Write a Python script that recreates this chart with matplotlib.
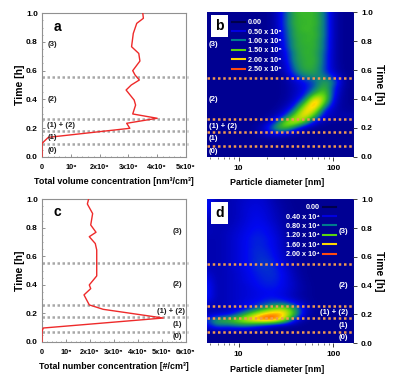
#!/usr/bin/env python3
"""Time series of volume / number concentration with size distribution maps."""

import matplotlib
matplotlib.use('Agg')
import matplotlib.pyplot as plt
import numpy as np
from matplotlib.colors import LinearSegmentedColormap
from matplotlib.lines import Line2D
from matplotlib.ticker import MultipleLocator

plt.rcParams['font.family'] = ['Liberation Sans', 'DejaVu Sans']
plt.rcParams['font.weight'] = 'bold'

W, H = 401, 385

# panel a: time [h] vs total volume concentration [1e9 nm3/cm3]
vol_time = [0, 0.093, 0.135, 0.198, 0.233, 0.268, 0.298, 0.36, 0.395, 0.465, 0.50, 0.535,
            0.57, 0.60, 0.667, 0.72, 0.767, 0.86, 0.93, 0.965, 1.0]
vol_conc = [0, 0, 0.22, 3.05, 2.94, 4.0, 3.15, 3.25, 3.2, 2.92, 3.1, 3.38,
            3.23, 3.15, 3.4, 3.36, 3.11, 3.17, 3.29, 3.52, 3.5]

# panel c: time [h] vs total number concentration [1e5 #/cm3]
num_time = [0, 0.072, 0.098, 0.168, 0.229, 0.26, 0.33, 0.374, 0.40, 0.463, 0.645, 0.69,
            0.738, 0.769, 0.82, 0.90, 0.967, 1.0]
num_conc = [0, 0, 0.05, 5.05, 2.55, 1.97, 1.75, 2.03, 1.97, 2.28, 2.28, 2.22,
            1.97, 2.25, 2.03, 2.11, 1.89, 1.94]

# maps: particle diameter columns [nm], rows go up in time every 0.04 h
diam = [4.6, 5.8, 7.4, 9.4, 12, 15, 19, 24, 31, 39, 49, 62, 79, 100, 127, 161]
map_time = [0, .04, .08, .12, .16, .20, .24, .28, .32, .36, .40, .44, .48, .52, .56, .60,
            .64, .68, .72, .76, .80, .84, .88, .92, .96, 1.0]

map_b = [
    [.03, .03, .03, .03, .03, .03, .03, .03, .03, .03, .03, .03, .03, .03, .03, .03],
    [.04, .04, .04, .04, .04, .04, .04, .04, .04, .04, .04, .04, .04, .04, .04, .04],
    [.04, .04, .04, .04, .04, .04, .04, .04, .04, .04, .04, .04, .04, .04, .04, .04],
    [.04, .04, .04, .04, .04, .04, .05, .05, .04, .04, .04, .04, .04, .04, .04, .04],
    [.04, .04, .04, .04, .04, .08, .25, .40, .25, .08, .04, .04, .04, .04, .04, .04],
    [.04, .04, .04, .04, .04, .10, .40, 1.2, 1.5, .70, .15, .05, .04, .04, .04, .04],
    [.04, .04, .04, .04, .04, .05, .15, .60, 1.7, 2.0, 1.3, .35, .10, .06, .06, .06],
    [.04, .04, .04, .04, .04, .04, .06, .20, .70, 1.7, 2.1, 1.2, .35, .20, .20, .20],
    [.04, .04, .04, .04, .04, .04, .04, .08, .30, 1.0, 2.2, 1.9, .50, .20, .10, .08],
    [.04, .04, .04, .04, .04, .04, .04, .05, .15, .50, 1.6, 2.5, 1.2, .25, .08, .05],
    [.04, .04, .04, .04, .04, .04, .04, .04, .10, .30, .80, 2.2, 1.7, .35, .06, .04],
    [.04, .04, .04, .04, .04, .04, .04, .04, .08, .25, .50, 1.2, 1.6, .50, .06, .04],
    [.04, .04, .04, .04, .04, .04, .04, .04, .08, .25, .45, .80, 1.4, .60, .06, .04],
    [.04, .04, .04, .04, .04, .04, .04, .04, .08, .30, .55, .75, 1.2, .90, .08, .04],
    [.04, .04, .04, .04, .04, .04, .04, .05, .12, .65, 1.0, 1.05, .90, .45, .05, .04],
    [.04, .04, .04, .04, .04, .04, .04, .08, .25, .90, 1.2, 1.2, .70, .20, .04, .04],
    [.04, .04, .04, .04, .04, .04, .04, .10, .30, 1.0, 1.25, 1.25, .75, .18, .04, .04],
    [.04, .04, .04, .04, .04, .04, .04, .12, .40, 1.1, 1.2, 1.3, .75, .15, .04, .04],
    [.04, .04, .04, .04, .04, .04, .04, .12, .45, 1.05, 1.3, 1.2, .80, .15, .04, .04],
    [.04, .04, .04, .04, .04, .04, .04, .14, .55, 1.2, 1.2, 1.3, .85, .15, .04, .04],
    [.04, .04, .04, .04, .04, .04, .04, .15, .60, 1.15, 1.3, 1.25, .85, .15, .04, .04],
    [.04, .04, .04, .04, .04, .04, .04, .15, .65, 1.25, 1.2, 1.35, .90, .15, .04, .04],
    [.04, .04, .04, .04, .04, .04, .04, .15, .70, 1.2, 1.35, 1.25, .90, .15, .04, .04],
    [.04, .04, .04, .04, .04, .04, .04, .15, .75, 1.3, 1.25, 1.35, .90, .15, .04, .04],
    [.04, .04, .04, .04, .04, .04, .04, .15, .75, 1.25, 1.3, 1.3, .90, .15, .04, .04],
    [.04, .04, .04, .04, .04, .04, .04, .15, .75, 1.3, 1.3, 1.3, .90, .15, .04, .04],
]

map_d = [
    [.03, .03, .03, .03, .03, .03, .03, .03, .03, .03, .03, .03, .03, .03, .03, .03],
    [.04, .04, .04, .04, .04, .04, .04, .04, .04, .04, .04, .04, .04, .04, .04, .04],
    [.04, .04, .04, .04, .04, .04, .04, .04, .04, .04, .04, .04, .04, .04, .04, .04],
    [.30, .70, .60, .70, .70, .50, .30, .10, .04, .04, .04, .04, .04, .04, .04, .04],
    [.50, 1.0, 1.1, 1.3, 1.6, 1.85, 2.0, 1.9, 1.3, .35, .06, .04, .04, .04, .04, .04],
    [.15, .25, .30, .55, 1.0, 1.5, 1.8, 1.85, 1.7, 1.0, .20, .05, .04, .04, .04, .04],
    [.15, .15, .20, .25, .35, .60, .95, 1.3, 1.35, .90, .25, .05, .04, .04, .04, .04],
    [.30, .15, .20, .25, .35, .40, .50, .60, .55, .35, .12, .05, .04, .04, .04, .04],
    [.50, .15, .20, .25, .30, .35, .40, .40, .30, .15, .08, .04, .04, .04, .04, .04],
    [.50, .15, .20, .25, .30, .35, .40, .40, .32, .18, .08, .04, .04, .04, .04, .04],
    [.50, .15, .20, .25, .30, .40, .45, .45, .35, .20, .08, .04, .04, .04, .04, .04],
    [.40, .15, .20, .25, .35, .42, .48, .48, .35, .18, .06, .04, .04, .04, .04, .04],
    [.30, .15, .20, .25, .35, .45, .50, .50, .35, .15, .05, .04, .04, .04, .04, .04],
    [.20, .15, .20, .28, .38, .48, .52, .48, .30, .12, .05, .04, .04, .04, .04, .04],
    [.15, .15, .20, .30, .40, .50, .55, .45, .25, .10, .05, .04, .04, .04, .04, .04],
    [.15, .15, .20, .30, .40, .50, .50, .40, .20, .08, .04, .04, .04, .04, .04, .04],
    [.15, .15, .20, .30, .40, .50, .48, .38, .18, .08, .04, .04, .04, .04, .04, .04],
    [.15, .15, .20, .30, .40, .48, .45, .35, .15, .08, .04, .04, .04, .04, .04, .04],
    [.15, .15, .20, .30, .40, .48, .45, .35, .15, .06, .04, .04, .04, .04, .04, .04],
    [.20, .15, .20, .28, .38, .45, .42, .30, .12, .05, .04, .04, .04, .04, .04, .04],
    [.20, .15, .18, .25, .35, .42, .40, .28, .10, .05, .04, .04, .04, .04, .04, .04],
    [.20, .15, .15, .22, .32, .40, .35, .22, .10, .05, .04, .04, .04, .04, .04, .04],
    [.30, .15, .15, .20, .30, .38, .32, .20, .10, .05, .04, .04, .04, .04, .04, .04],
    [.40, .15, .15, .20, .30, .35, .30, .18, .08, .05, .04, .04, .04, .04, .04, .04],
    [.50, .15, .15, .20, .28, .32, .28, .15, .08, .04, .04, .04, .04, .04, .04, .04],
    [.50, .15, .15, .20, .25, .30, .25, .12, .06, .04, .04, .04, .04, .04, .04, .04],
]

# dotted phase boundaries [h]
bounds_a = [0.088, 0.179, 0.265, 0.553]
bounds_b = [0.076, 0.173, 0.259, 0.543]
bounds_c = [0.068, 0.173, 0.257, 0.551]
bounds_d = [0.074, 0.176, 0.259, 0.551]

levels_b = ['0.00', '0.50 x 10⁸', '1.00 x 10⁸', '1.50 x 10⁸', '2.00 x 10⁸', '2.50 x 10⁸']
levels_d = ['0.00', '0.40 x 10⁴', '0.80 x 10⁴', '1.20 x 10⁴', '1.60 x 10⁴', '2.00 x 10⁴']
level_colors = ['#00004a', '#0000e0', '#007a8c', '#5ad410', '#ffd800', '#ff4a10']

phase_cmap = LinearSegmentedColormap.from_list(
    'phase', [(0, '#00008a'), (0.2, '#0008f0'), (0.36, '#0a7a8a'), (0.5, '#30b030'), (0.6, '#60d810'),
              (0.8, '#ffe000'), (1.0, '#ff3000')])


def make_axes(fig, left, top, right, bottom):
    """Axes from pixel edges in the figure."""
    return fig.add_axes([left / W, 1 - bottom / H, (right - left) / W, (bottom - top) / H])


def line_panel(ax, conc, time, bounds, xmax, xlabels, xlabel, tag, tag_x, tag_y, phases, phase_x):
    ax.plot(conc, time, color='#ee2a2a', linewidth=1.0, zorder=3)
    for b in bounds:
        ax.plot([0, xmax * 1.015], [b, b], color='#a8a8a8', linewidth=1.8, linestyle=(0, (1, 1)),
                clip_on=False, zorder=2)
    ax.set_xlim(0, xmax)
    ax.set_ylim(0, 1)
    ax.set_xticks(np.arange(0, xmax + 1))
    ax.set_xticklabels(xlabels, fontsize=5.2)
    ax.xaxis.set_minor_locator(MultipleLocator(0.2))
    ax.yaxis.set_major_locator(MultipleLocator(0.2))
    ax.yaxis.set_minor_locator(MultipleLocator(0.05))
    ax.tick_params(which='major', direction='in', length=2, width=0.6, color='#808080', labelsize=6, pad=3)
    ax.tick_params(which='minor', direction='in', length=1, width=0.5, color='#808080')
    ax.tick_params(axis='x', which='major', labelsize=5.2, pad=5)
    for s in ax.spines.values():
        s.set_color('#909090')
        s.set_linewidth(0.8)
    ax.set_xlabel(xlabel, fontsize=6.4, fontweight='bold', labelpad=4.5)
    ax.set_ylabel('Time [h]', fontsize=7.5, fontweight='bold', labelpad=1)
    ax.text(tag_x, tag_y, tag, fontsize=10, fontweight='bold', ha='left', va='center')
    for label, t in phases:
        ax.text(phase_x, t, label, fontsize=5.6, fontweight='bold', ha='left', va='center', color='#202020')


def map_panel(ax, grid, bounds, labels, vmax, markerfirst, legend_anchor, tag, phases, phase_x):
    # x runs in log10(diameter) so the image can be smoothed on a regular grid
    log_d = np.log10(diam)
    dx = (log_d[-1] - log_d[0]) / (len(diam) - 1) / 2
    dt = (map_time[1] - map_time[0]) / 2
    ax.imshow(np.array(grid), origin='lower', aspect='auto', interpolation='bicubic', cmap=phase_cmap,
              vmin=0, vmax=vmax, extent=[log_d[0] - dx, log_d[-1] + dx, map_time[0] - dt, map_time[-1] + dt])
    ax.set_xlim(log_d[0], log_d[-1])
    ax.set_ylim(0, 1)
    for b in bounds:
        ax.axhline(b, color='#f09a50', linewidth=1.8, linestyle=(0, (1, 1.1)), zorder=3)
    ax.set_xticks([1, 2])
    ax.set_xticklabels(['10', '100'])
    minor = [5, 6, 7, 8, 9, 20, 30, 40, 50, 60, 70, 80, 90]
    ax.set_xticks(np.log10(minor), minor=True)
    ax.yaxis.tick_right()
    ax.yaxis.set_label_position('right')
    ax.yaxis.set_major_locator(MultipleLocator(0.2))
    ax.tick_params(which='major', direction='out', length=3, width=0.7, labelsize=6, pad=3, color='#404040')
    ax.tick_params(which='minor', direction='out', length=1.5, width=0.5, color='#404040')
    for s in ax.spines.values():
        s.set_visible(False)
    ax.set_xlabel('Particle diameter [nm]', fontsize=6.4, fontweight='bold', labelpad=4.5)
    ax.xaxis.label.set_x(0.48)
    ax.set_ylabel('Time [h]', fontsize=7.5, fontweight='bold', rotation=-90, labelpad=8)
    ax.text(0.088, 0.905, tag, transform=ax.transAxes, fontsize=10, fontweight='bold', ha='center',
            va='center', bbox=dict(facecolor='white', edgecolor='none', boxstyle='square,pad=0.3'), zorder=5)
    for label, t in phases:
        ax.text(phase_x, t, label, transform=ax.get_yaxis_transform(), fontsize=5.6, fontweight='bold',
                color='white', ha='left' if markerfirst else 'right', va='center', zorder=5)
    handles = [Line2D([], [], color=c, linewidth=1.5) for c in level_colors]
    leg = ax.legend(handles, labels, loc='upper left' if markerfirst else 'upper right',
                    bbox_to_anchor=legend_anchor, frameon=False, fontsize=5.2, labelspacing=0.32,
                    handlelength=1.8, handletextpad=0.42, markerfirst=markerfirst,
                    borderaxespad=0, borderpad=0)
    for text in leg.get_texts():
        text.set_color('white')
        text.set_fontweight('bold')


def main():
    fig = plt.figure(figsize=(W / 100, H / 100), dpi=100)

    ax_a = make_axes(fig, 42, 13.3, 186, 156.7)
    line_panel(ax_a, vol_conc, vol_time, bounds_a, 5,
               ['0', '10⁹', '2x10⁹', '3x10⁹', '4x10⁹', '5x10⁹'],
               'Total volume concentration [nm³/cm³]', 'a', 0.42, 0.905,
               [('(3)', 0.78), ('(2)', 0.40), ('(1) + (2)', 0.219), ('(1)', 0.133), ('(0)', 0.042)], 0.18)

    ax_c = make_axes(fig, 42, 199.3, 186, 342)
    line_panel(ax_c, num_conc, num_time, bounds_c, 6,
               ['0', '10⁵', '2x10⁵', '3x10⁵', '4x10⁵', '5x10⁵', '6x10⁵'],
               'Total number concentration [#/cm³]', 'c', 0.48, 0.91,
               [('(3)', 0.773), ('(2)', 0.40), ('(1) + (2)', 0.213), ('(1)', 0.124), ('(0)', 0.037)], 5.46)
    # phase (1) + (2) starts further left than the others in this panel
    ax_c.texts[3].set_x(4.78)

    ax_b = make_axes(fig, 206.7, 12.3, 352.7, 156.7)
    map_panel(ax_b, map_b, bounds_b, levels_b, 2.5, True, (0.173, 0.952), 'b',
              [('(3)', 0.775), ('(2)', 0.395), ('(1) + (2)', 0.21), ('(1)', 0.125), ('(0)', 0.035)], 0.015)

    ax_d = make_axes(fig, 206.7, 199.3, 352.7, 343)
    map_panel(ax_d, map_d, bounds_d, levels_d, 2.0, False, (0.886, 0.966), 'd',
              [('(3)', 0.775), ('(2)', 0.40), ('(1) + (2)', 0.215), ('(1)', 0.125), ('(0)', 0.04)], 0.97)

    fig.savefig('out.png', dpi=100)
    plt.close(fig)


if __name__ == "__main__":
    main()
